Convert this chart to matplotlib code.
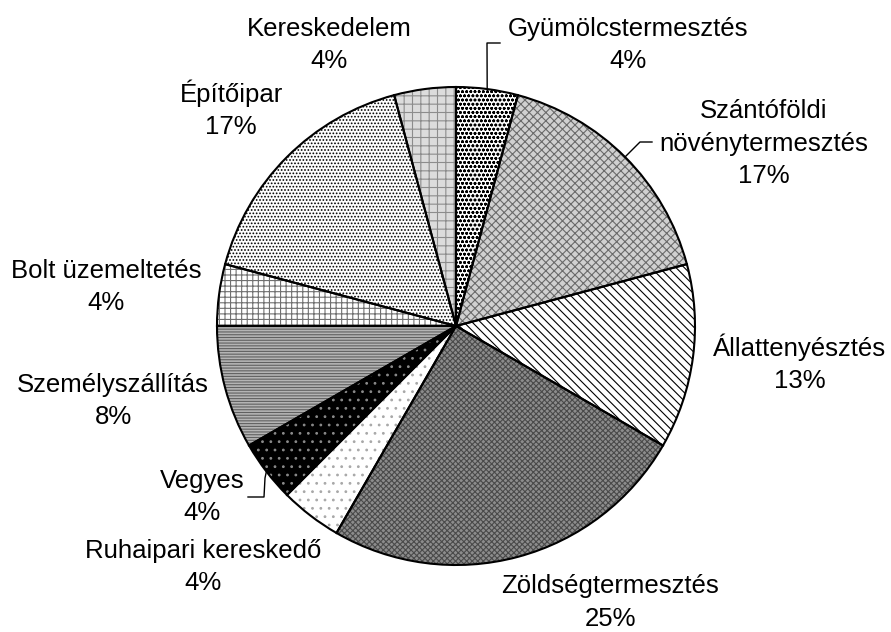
import numpy as np
import matplotlib
matplotlib.use("Agg")
import matplotlib.pyplot as plt

# counts per activity (24 in total), clockwise from 12 o'clock
labels = ["Gyümölcstermesztés", "Szántóföldi\nnövénytermesztés", "Állattenyésztés",
          "Zöldségtermesztés", "Ruhaipari kereskedő", "Vegyes", "Személyszállítás",
          "Bolt üzemeltetés", "Építőipar", "Kereskedelem"]
counts = [1, 4, 3, 6, 1, 1, 2, 1, 4, 1]

# fill / hatch / hatch colour for each slice (black & white print look)
faces = ["white", "#d0d0d0", "white", "#8c8c8c", "white", "black", "#b4b4b4", "white", "white", "#dcdcdc"]
hatches = ["oooo", "xxxx", "\\\\\\\\", "xxxxxx", "..", "..", "------", "+++", ".....", "++"]
hcolors = ["black", "#6a6a6a", "black", "#4a4a4a", "#a8a8a8", "#8a8a8a", "#606060", "#707070", "black", "#8c8c8c"]

# label anchor (pixel x, baseline pixel y of first line)
label_pos = [(628, 36), (764, 118), (800, 356), (610, 593), (203, 558),
             (202, 488), (113, 392), (106, 278), (231, 102), (329, 36)]

# leader lines: list of pixel points from label side towards the pie
leaders = {0: [(500, 43), (487, 43)],
           1: [(652, 142), (640, 142)],
           5: [(248, 497), (264, 497), (265, 478)]}

W, H = 891, 632
cx, cy, r = 456, 326, 239

plt.rcParams["hatch.linewidth"] = 0.8
fig = plt.figure(figsize=(W / 100, H / 100), dpi=100)
ax = fig.add_axes([0, 0, 1, 1])

wedges, _ = ax.pie(counts, center=(cx, H - cy), radius=r, startangle=90,
                   counterclock=False, colors=faces,
                   wedgeprops=dict(linewidth=0))
for w, h, hc in zip(wedges, hatches, hcolors):
    w.set_hatch(h)
    w.set_edgecolor(hc)

ax.pie(counts, center=(cx, H - cy), radius=r, startangle=90, counterclock=False,
       wedgeprops=dict(facecolor="none", edgecolor="black", linewidth=1.5))

total = sum(counts)
for i, (lab, n) in enumerate(zip(labels, counts)):
    pct = f"{round(100 * n / total + 1e-9):.0f}%"
    x, y = label_pos[i]
    lines = lab.split("\n") + [pct]
    for k, line in enumerate(lines):
        ax.text(x, H - (y + 32.5 * k), line, ha="center", va="baseline",
                fontsize=18.5, family="Liberation Sans", color="black")

# leader lines end on the slice's mid-angle on the rim
cum = np.cumsum([0] + counts)
for i, pts in leaders.items():
    mid = np.deg2rad(360 * (cum[i] + cum[i + 1]) / 2 / total)
    ex = cx + r * np.sin(mid)
    ey = cy - r * np.cos(mid)
    xs = [p[0] for p in pts] + [ex]
    ys = [H - p[1] for p in pts] + [H - ey]
    ax.plot(xs, ys, color="black", linewidth=1)

ax.set_xlim(0, W)
ax.set_ylim(0, H)
ax.set_aspect("auto")
ax.axis("off")

fig.savefig("out.png", dpi=100)
